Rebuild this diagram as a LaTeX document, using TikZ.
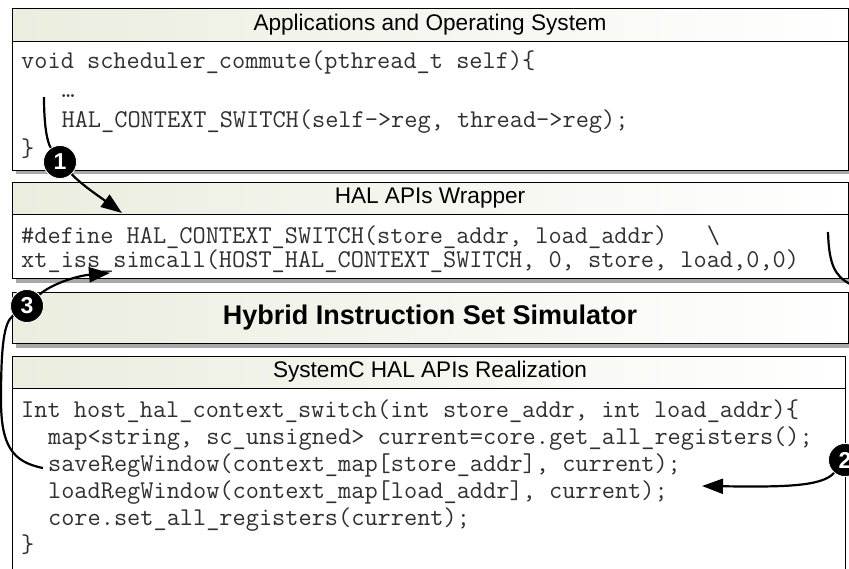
\documentclass[tikz,border=0pt]{standalone}
\usepackage{fontspec}
\setmainfont{Liberation Sans}
\usetikzlibrary{arrows.meta}
\definecolor{hdr}{HTML}{EBEDDF}
\definecolor{shd}{HTML}{A8A8A8}
\definecolor{codeink}{HTML}{303030}
\tikzset{
  frame/.style={draw=black, line width=1pt},
  hdrshade/.style={left color=hdr, right color=white},
  shadowfill/.style={fill=shd},
  code/.style={font=\ttfamily\fontsize{25.6}{30}\selectfont, text=codeink, anchor=base west, inner sep=0pt},
  title/.style={font=\fontsize{22.6}{27}\selectfont, inner sep=0pt},
  bigtitle/.style={font=\bfseries\fontsize{27}{32}\selectfont, inner sep=0pt},
  num/.style={circle, fill=black, draw=white, line width=0.8pt, text=white,
    font=\bfseries\fontsize{23}{23}\selectfont, minimum size=33pt, inner sep=0pt},
  conn/.style={line width=2.2pt, draw=black},
  tip/.style={-{Triangle[length=21pt,width=15pt]}}
}
\begin{document}
\begin{tikzpicture}[x=1pt,y=-1pt]
\useasboundingbox (0,0) rectangle (849,568);
\begin{scope}
\clip (0,0) rectangle (849,568);
% ---------- Box 1 ----------
\fill[shadowfill] (16,12) rectangle (852,174);
\fill[white] (12,8) rectangle (848,170);
\shade[hdrshade] (12,8) rectangle (848,41);
\draw[frame] (12,8) rectangle (848,170);
\draw[frame] (12,41) -- (848,41);
\node[title] (t1) at (430,24.5) {Applications and Operating System};
\node[code] (c11) at (21,68) {void scheduler\_commute(pthread\_t self)\{};
\node[code] (c12) at (61.4,97.5) {…};
\node[code] (c13) at (61.4,127) {HAL\_CONTEXT\_SWITCH(self->reg, thread->reg);};
\node[code] (c14) at (21,156) {\}};
% ---------- Box 2 ----------
\fill[shadowfill] (16,186) rectangle (852,283);
\fill[white] (12,182) rectangle (848,278);
\shade[hdrshade] (12,182) rectangle (848,214);
\draw[frame] (12,182) rectangle (848,278);
\draw[frame] (12,214) -- (848,214);
\node[title] (t2) at (430,198) {HAL APIs Wrapper};
\node[code] (c21) at (21,243) {\#define HAL\_CONTEXT\_SWITCH(store\_addr, load\_addr)\ \ \ \textbackslash};
\node[code] (c22) at (21,267) {xt\_iss\_simcall(HOST\_HAL\_CONTEXT\_SWITCH, 0, store, load,0,0)};
% ---------- Box 3 ----------
\fill[shadowfill] (16,296) rectangle (852,348);
\shade[hdrshade] (12,292) rectangle (848,343);
\draw[frame] (12,292) rectangle (848,343);
\node[bigtitle] (t3) at (430,317.5) {Hybrid Instruction Set Simulator};
% ---------- Box 4 ----------
\fill[white] (12,356) rectangle (845,580);
\shade[hdrshade] (12,356) rectangle (845,388);
\draw[frame] (12,356) rectangle (845,580);
\draw[frame] (12,388) -- (845,388);
\node[title] (t4) at (430,372) {SystemC HAL APIs Realization};
\node[code] (c41) at (21,417) {Int host\_hal\_context\_switch(int store\_addr, int load\_addr)\{};
\node[code] (c42) at (47.9,444) {map<string, sc\_unsigned> current=core.get\_all\_registers();};
\node[code] (c43) at (47.9,471) {saveRegWindow(context\_map[store\_addr], current);};
\node[code] (c44) at (47.9,498) {loadRegWindow(context\_map[load\_addr], current);};
\node[code] (c45) at (47.9,525) {core.set\_all\_registers(current);};
\node[code] (c46) at (21,552) {\}};
% ---------- Step markers ----------
\node[num] (n1) at (60,162) {1};
\node[num] (n2) at (845,460) {2};
\node[num] (n3) at (27,306) {3};
\coordinate (a1) at (44,97);
\coordinate (e1) at (122,213);
\coordinate (a2) at (828,232);
\coordinate (e2) at (702,486);
\coordinate (a3) at (43,468);
\coordinate (e3) at (110,273);
% ---------- Connectors ----------
\draw[conn] (a1) .. controls (44,125) and (47,142) .. (n1);
\draw[conn,tip] (n1) .. controls (82,185) and (100,197) .. (e1);
\draw[conn] (a2) .. controls (829,265) and (835,276) .. (850,284)
            .. controls (880,300) and (885,430) .. (n2);
\draw[conn,tip] (n2) .. controls (822,487) and (780,487) .. (e2);
\draw[conn] (a3) .. controls (12,462) and (1,445) .. (1,400)
            .. controls (1,345) and (4,322) .. (n3);
\draw[conn,tip] (n3) .. controls (50,285) and (75,276) .. (e3);
\end{scope}
\end{tikzpicture}
\end{document}
